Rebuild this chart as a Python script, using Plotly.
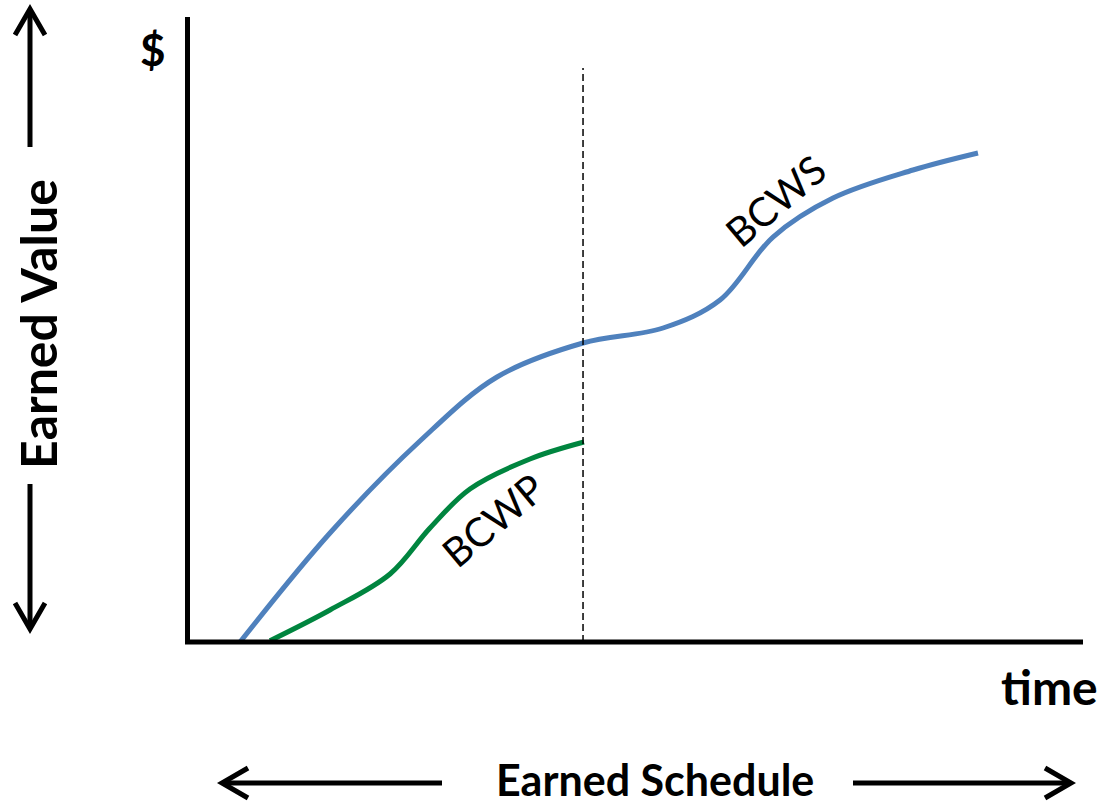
import plotly.graph_objects as go

W, H = 1101, 805

# ---- data (time units 0-100, value units 0-100) ----
bcws_t = [5.92, 15.96, 26.00, 34.60, 44.20, 53.13, 59.49, 65.40, 72.10, 81.03, 88.28]
bcws_v = [0.0, 17.47, 32.21, 42.47, 47.92, 50.32, 54.81, 64.90, 71.15, 75.64, 78.37]
bcwp_t = [9.26, 15.96, 22.66, 27.12, 31.58, 38.28, 44.30]
bcwp_v = [0.2, 5.13, 10.90, 18.27, 24.52, 29.33, 32.05]
status_t = 44.2
status_top = 92.0

# plot domain in pixels
X0, X1 = 187, 1083
Y0, Y1 = 642, 17


def px(x):
    return x / W


def py(y):
    return 1 - y / H


fig = go.Figure()
fig.add_trace(go.Scatter(x=bcws_t, y=bcws_v, mode="lines", line=dict(color="#4F81BD", width=5, shape="spline", smoothing=1.0), hoverinfo="skip"))
fig.add_trace(go.Scatter(x=bcwp_t, y=bcwp_v, mode="lines", line=dict(color="#00853F", width=5, shape="spline", smoothing=1.0), hoverinfo="skip"))
fig.add_trace(go.Scatter(x=[status_t, status_t], y=[0, status_top], mode="lines", line=dict(color="black", width=1.5, dash="7px,4px"), hoverinfo="skip"))

shapes = []
# axes
shapes.append(dict(type="line", xref="paper", yref="paper", x0=px(187.5), x1=px(187.5), y0=py(17), y1=py(644), line=dict(color="black", width=5)))
shapes.append(dict(type="line", xref="paper", yref="paper", x0=px(185), x1=px(1083), y0=py(642), y1=py(642), line=dict(color="black", width=5)))


def arrow(xs, ys, tipx, tipy, hx1, hy1, hx2, hy2):
    shapes.append(dict(type="line", xref="paper", yref="paper", x0=px(xs), y0=py(ys), x1=px(tipx), y1=py(tipy), line=dict(color="black", width=5)))
    shapes.append(dict(type="path", xref="paper", yref="paper",
                       path=f"M {px(hx1)} {py(hy1)} L {px(tipx)} {py(tipy)} L {px(hx2)} {py(hy2)}",
                       line=dict(color="black", width=5)))


# vertical arrows
arrow(30, 147, 30, 9, 15, 35, 45, 35)
arrow(30, 484, 30, 629, 15, 603, 45, 603)
# horizontal arrows
arrow(442, 783, 222, 783, 248, 768, 248, 798)
arrow(853, 783, 1071, 783, 1045, 768, 1045, 798)

ann = []
FONT = "Lato"


def label(x, y, text, size, angle=0):
    ann.append(dict(x=px(x), y=py(y), xref="paper", yref="paper", text=text, textangle=angle,
                    xanchor="center", yanchor="middle", showarrow=False,
                    font=dict(family=FONT, size=size, color="black")))


label(153, 49, "<b>$</b>", 44)
label(1049, 686, "<b>time</b>", 48)
label(38, 324, "<b>Earned Value</b>", 50, -90)
label(655, 779, "<b>Earned Schedule</b>", 43)
label(775, 201, "BCWS", 40, -40)
label(493, 520, "BCWP", 40, -40)

fig.update_layout(
    width=W, height=H,
    margin=dict(l=0, r=0, t=0, b=0, pad=0),
    paper_bgcolor="white", plot_bgcolor="rgba(0,0,0,0)",
    showlegend=False,
    xaxis=dict(domain=[X0 / W, X1 / W], range=[0, 100], visible=False, fixedrange=True),
    yaxis=dict(domain=[1 - Y0 / H, 1 - Y1 / H], range=[0, 100 * (Y0 - Y1) / 624], visible=False, fixedrange=True),
    shapes=shapes, annotations=ann,
)

fig.write_html("out.html", config={"displayModeBar": False})
